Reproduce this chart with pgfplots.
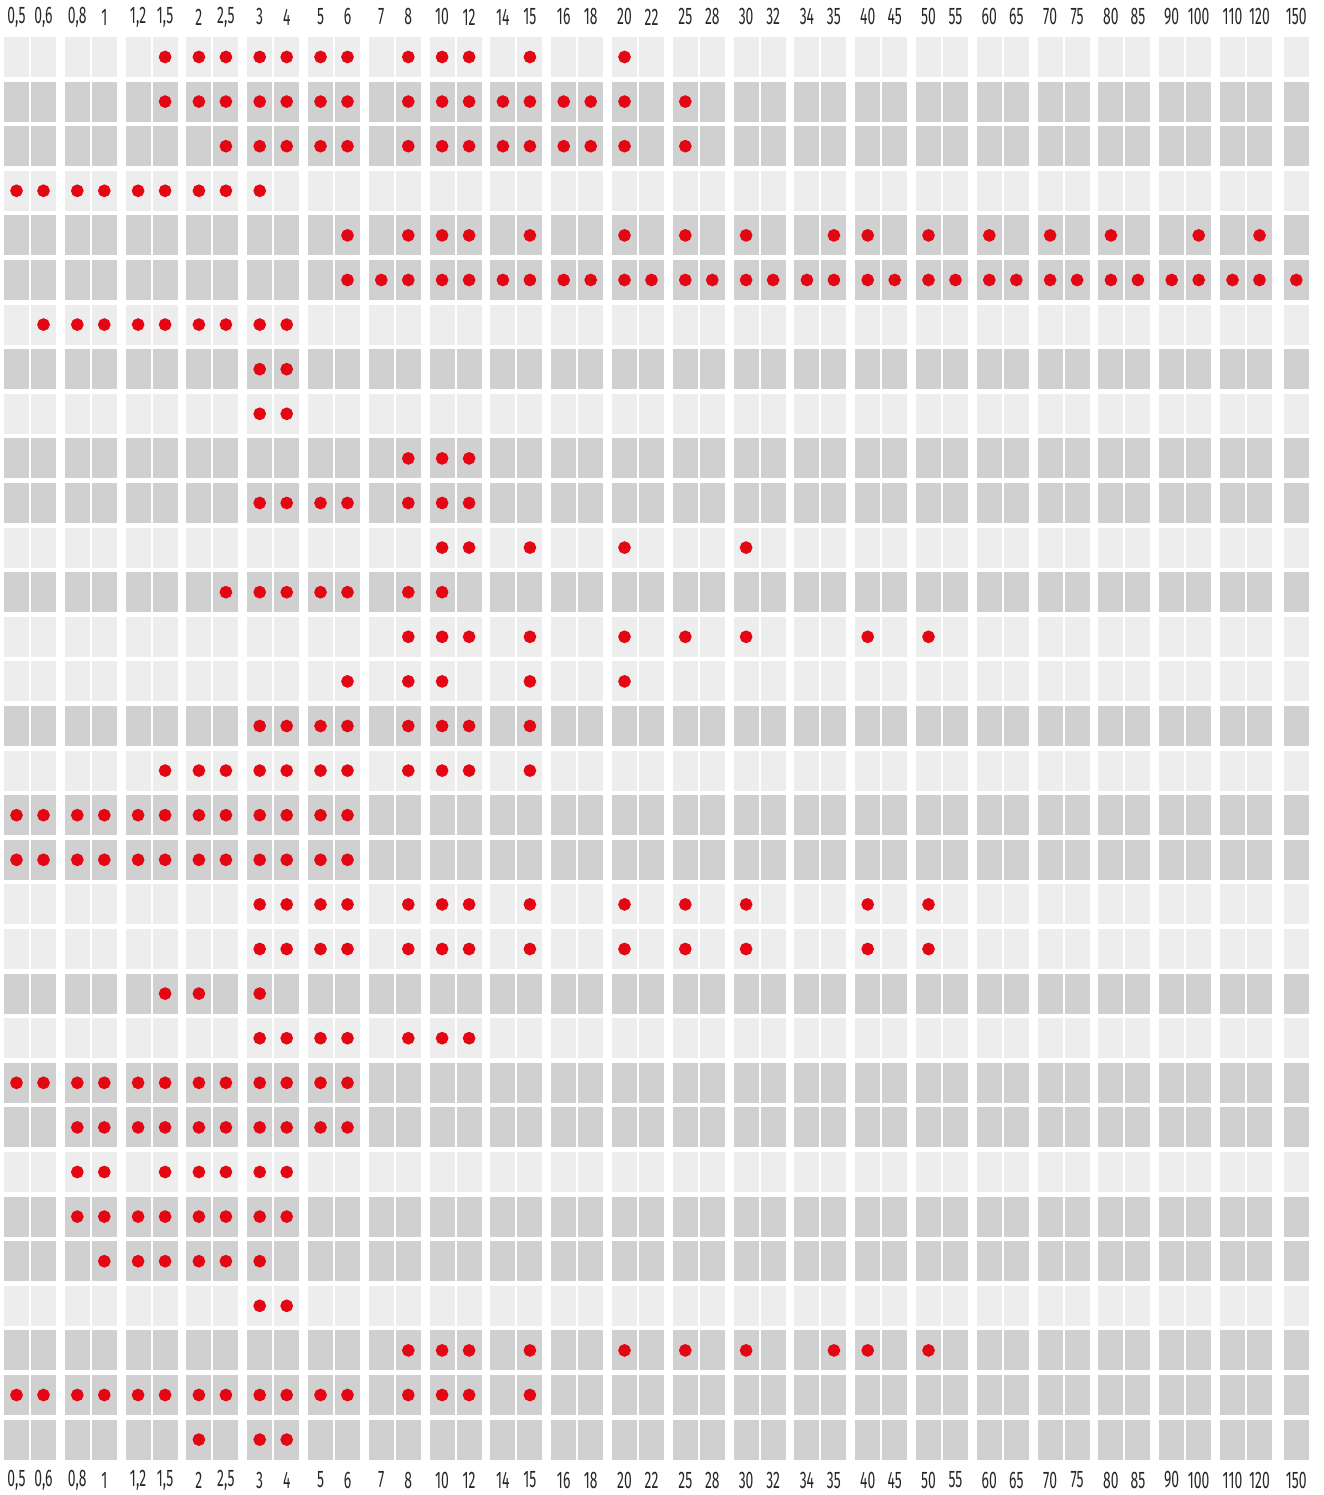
\documentclass[border=0pt]{standalone}
\usepackage{pgfplots}
\pgfplotsset{compat=1.18}
\usepackage{pgfplotstable}
\usepackage{fontspec}
\setmainfont{Fira Sans}[FakeStretch=0.58]
\definecolor{celllight}{RGB}{237,237,237}
\definecolor{celldark}{RGB}{208,208,208}
\definecolor{dotred}{RGB}{228,6,19}
\definecolor{labelgray}{RGB}{40,40,40}

\pgfplotstableread{
c l
0 0,5
1 0,6
2 0,8
3 1
4 1,2
5 1,5
6 2
7 2,5
8 3
9 4
10 5
11 6
12 7
13 8
14 10
15 12
16 14
17 15
18 16
19 18
20 20
21 22
22 25
23 28
24 30
25 32
26 34
27 35
28 40
29 45
30 50
31 55
32 60
33 65
34 70
35 75
36 80
37 85
38 90
39 100
40 110
41 120
42 150
}\collabels

\pgfplotsset{
  colpos/.style={x filter/.expression={16.5+60.8*floor(x/2+0.25)+27*(x-2*floor(x/2+0.25))+3*(x>41.5)}},
  rowpos/.style={y filter/.expression={57+44.6*(y-1)}},
  lab/.style={only marks, mark=*, mark size=0pt, colpos,
    scatter/use mapped color={draw=none,fill=none},
    mark options={draw=none,fill=none},
    nodes near coords, point meta=explicit symbolic, nodes near coords align={center},
    every node near coord/.append style={font=\fontsize{7.2}{8}\selectfont, text=labelgray, inner sep=0pt}},
}

\begin{document}
\begin{tikzpicture}
\begin{axis}[
  scale only axis, width=396.9pt, height=448.5pt,
  xmin=0, xmax=1323, ymin=0, ymax=1495, y dir=reverse,
  axis line style={draw=none}, ticks=none, clip=false,
]
\pgfplotsforeachungrouped \r in {1,...,32}{%
  \pgfmathsetmacro\yt{37+44.6*(\r-1)}%
  \pgfmathsetmacro\yb{\yt+40}%
  \pgfmathtruncatemacro\sh{{0,1,1,0,1,1,0,1,0,1,1,0,1,0,0,1,0,1,1,0,0,1,0,1,1,0,1,1,0,1,1,1}[\r-1]}%
  \ifnum\sh=1 \def\cc{celldark}\else\def\cc{celllight}\fi
  \pgfplotsforeachungrouped \c in {0,...,42}{%
    \pgfmathsetmacro\xl{4+60.8*floor(\c/2)+27*mod(\c,2)+3*(\c==42)}%
    \pgfmathsetmacro\xr{\xl+25}%
    \edef\tmp{\noexpand\fill[\cc] (axis cs:\xl,\yt) rectangle (axis cs:\xr,\yb);}%
    \tmp
  }%
}
\addplot[only marks, mark=*, mark size=1.7pt, color=dotred, mark options={draw=none,fill=dotred}, colpos, rowpos] coordinates {
(5,1)(6,1)(7,1)(8,1)(9,1)(10,1)(11,1)(13,1)(14,1)(15,1)(17,1)(20,1)
(5,2)(6,2)(7,2)(8,2)(9,2)(10,2)(11,2)(13,2)(14,2)(15,2)(16,2)(17,2)(18,2)(19,2)(20,2)(22,2)
(7,3)(8,3)(9,3)(10,3)(11,3)(13,3)(14,3)(15,3)(16,3)(17,3)(18,3)(19,3)(20,3)(22,3)
(0,4)(1,4)(2,4)(3,4)(4,4)(5,4)(6,4)(7,4)(8,4)
(11,5)(13,5)(14,5)(15,5)(17,5)(20,5)(22,5)(24,5)(27,5)(28,5)(30,5)(32,5)(34,5)(36,5)(39,5)(41,5)
(11,6)(12,6)(13,6)(14,6)(15,6)(16,6)(17,6)(18,6)(19,6)(20,6)(21,6)(22,6)(23,6)(24,6)(25,6)(26,6)
(27,6)(28,6)(29,6)(30,6)(31,6)(32,6)(33,6)(34,6)(35,6)(36,6)(37,6)(38,6)(39,6)(40,6)(41,6)(42,6)
(1,7)(2,7)(3,7)(4,7)(5,7)(6,7)(7,7)(8,7)(9,7)
(8,8)(9,8)
(8,9)(9,9)
(13,10)(14,10)(15,10)
(8,11)(9,11)(10,11)(11,11)(13,11)(14,11)(15,11)
(14,12)(15,12)(17,12)(20,12)(24,12)
(7,13)(8,13)(9,13)(10,13)(11,13)(13,13)(14,13)
(13,14)(14,14)(15,14)(17,14)(20,14)(22,14)(24,14)(28,14)(30,14)
(11,15)(13,15)(14,15)(17,15)(20,15)
(8,16)(9,16)(10,16)(11,16)(13,16)(14,16)(15,16)(17,16)
(5,17)(6,17)(7,17)(8,17)(9,17)(10,17)(11,17)(13,17)(14,17)(15,17)(17,17)
(0,18)(1,18)(2,18)(3,18)(4,18)(5,18)(6,18)(7,18)(8,18)(9,18)(10,18)(11,18)
(0,19)(1,19)(2,19)(3,19)(4,19)(5,19)(6,19)(7,19)(8,19)(9,19)(10,19)(11,19)
(8,20)(9,20)(10,20)(11,20)(13,20)(14,20)(15,20)(17,20)(20,20)(22,20)(24,20)(28,20)(30,20)
(8,21)(9,21)(10,21)(11,21)(13,21)(14,21)(15,21)(17,21)(20,21)(22,21)(24,21)(28,21)(30,21)
(5,22)(6,22)(8,22)
(8,23)(9,23)(10,23)(11,23)(13,23)(14,23)(15,23)
(0,24)(1,24)(2,24)(3,24)(4,24)(5,24)(6,24)(7,24)(8,24)(9,24)(10,24)(11,24)
(2,25)(3,25)(4,25)(5,25)(6,25)(7,25)(8,25)(9,25)(10,25)(11,25)
(2,26)(3,26)(5,26)(6,26)(7,26)(8,26)(9,26)
(2,27)(3,27)(4,27)(5,27)(6,27)(7,27)(8,27)(9,27)
(3,28)(4,28)(5,28)(6,28)(7,28)(8,28)
(8,29)(9,29)
(13,30)(14,30)(15,30)(17,30)(20,30)(22,30)(24,30)(27,30)(28,30)(30,30)
(0,31)(1,31)(2,31)(3,31)(4,31)(5,31)(6,31)(7,31)(8,31)(9,31)(10,31)(11,31)(13,31)(14,31)(15,31)(17,31)
(6,32)(8,32)(9,32)
};
\addplot[lab] table[x=c, y expr=17, meta=l]{\collabels};
\addplot[lab] table[x=c, y expr=1480, meta=l]{\collabels};
\end{axis}
\end{tikzpicture}
\end{document}
